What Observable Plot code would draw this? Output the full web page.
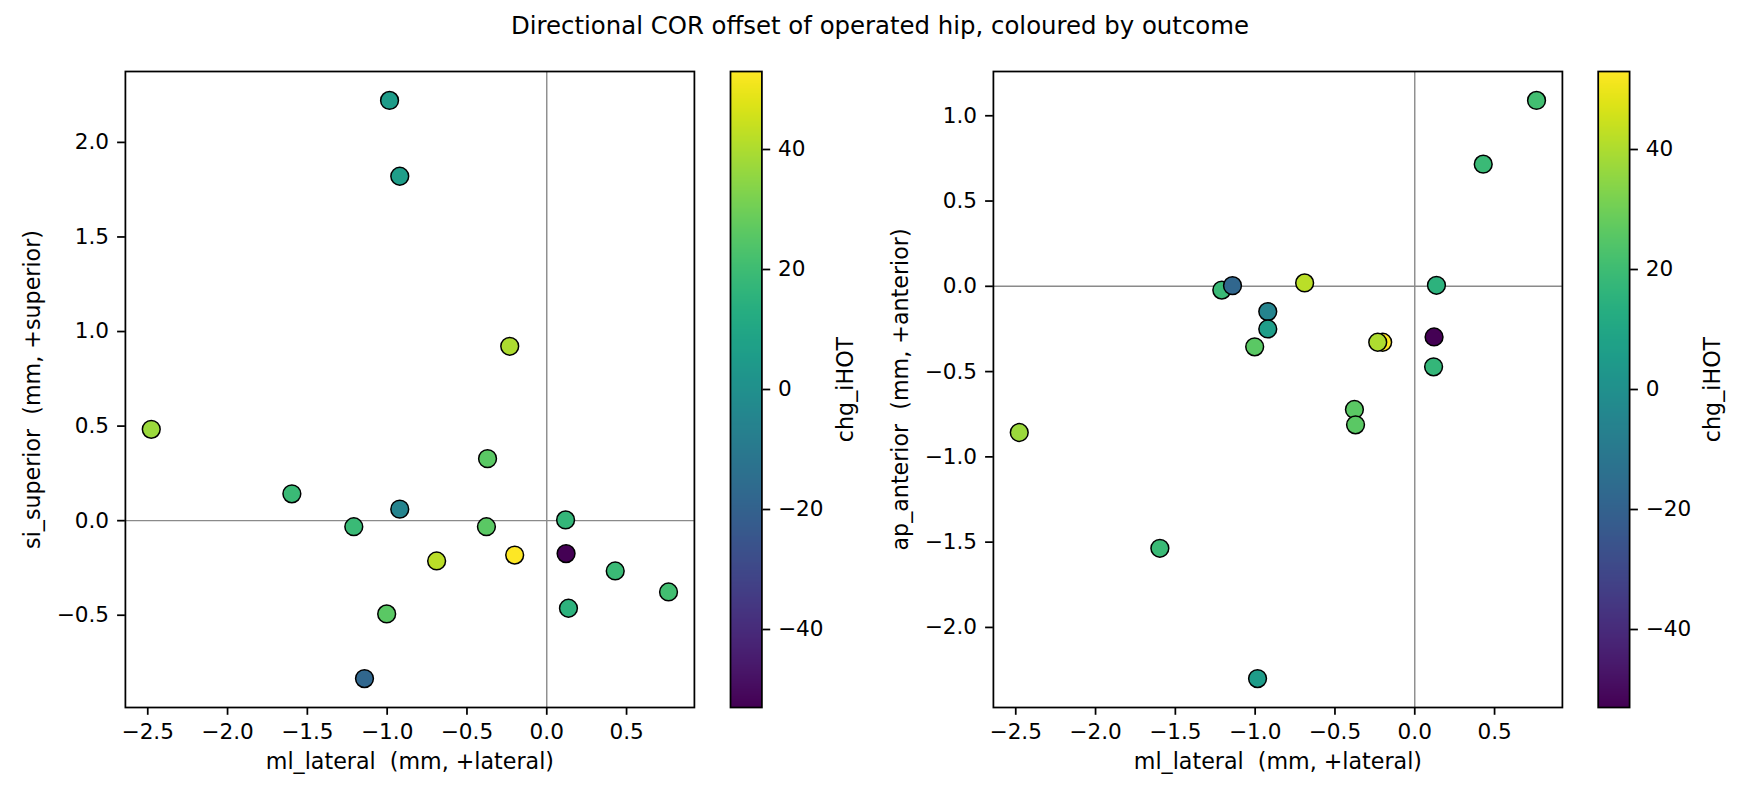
<!DOCTYPE html>
<html>
<head>
<meta charset="utf-8">
<script src="https://cdn.jsdelivr.net/npm/d3@7"></script>
<script src="https://cdn.jsdelivr.net/npm/@observablehq/plot@0.6"></script>
<style>
  html, body { margin: 0; padding: 0; background: #fff; }
  #fig { position: relative; width: 1760px; height: 800px; background: #fff; overflow: hidden; font-family: "DejaVu Sans", sans-serif; }
  #title { position: absolute; left: 0; width: 1760px; top: 13.7px; text-align: center; font-size: 24.4px; line-height: 1; color: #000; white-space: pre; }
  .panel { position: absolute; top: 0; }
  svg text { white-space: pre; }
</style>
</head>
<body>
<div id="fig">
  <div id="title"></div>
</div>
<script>
// ---- data ----
const titleText = "Directional COR offset of operated hip, coloured by outcome";
const mlLateral  = [-0.985, -0.921, -0.921, -2.478, -0.201, -0.232, -1.597, -1.209, -1.142, -0.378, -0.371, 0.118, -0.690, 0.121, 0.429, 0.763, 0.136, -1.003];
const siSuperior = [ 2.222,  0.061,  1.821,  0.483, -0.182,  0.922,  0.142, -0.032, -0.835, -0.032,  0.328, 0.004, -0.213, -0.174, -0.266, -0.377, -0.463, -0.493];
const apAnterior = [-2.300, -0.148, -0.250, -0.857, -0.328, -0.328, -1.536, -0.022,  0.004, -0.722, -0.812, -0.472, 0.020, -0.297, 0.716, 1.090, 0.006, -0.355];
const chgIHOT    = [5, -5, 6, 37, 53, 40, 19, 19, -18, 26, 26, 17, 42, -53, 19, 21, 15, 26];

const xTicks = [-2.5, -2.0, -1.5, -1.0, -0.5, 0.0, 0.5];
const siTicks = [-0.5, 0.0, 0.5, 1.0, 1.5, 2.0];
const apTicks = [-2.0, -1.5, -1.0, -0.5, 0.0, 0.5, 1.0];
const cTicks = [-40, -20, 0, 20, 40];

const xLabel = "ml_lateral  (mm, +lateral)";
const siLabel = "si_superior  (mm, +superior)";
const apLabel = "ap_anterior  (mm, +anterior)";
const cLabel = "chg_iHOT";

// ---- helpers ----
const rows = mlLateral.map((x, i) => ({ml: x, si: siSuperior[i], ap: apAnterior[i], chg: chgIHOT[i]}));
function padded(arr) {
  const lo = d3.min(arr), hi = d3.max(arr), p = (hi - lo) * 0.05;
  return [lo - p, hi + p];
}
const cMax = d3.max(chgIHOT, d => Math.abs(d));
const cDomain = [-cMax, cMax];
const fmt1 = d3.format(".1f");
const fmtInt = d3.format("d");
const TICK_FS = 21.6, LABEL_FS = 22.2;
const baseStyle = {fontFamily: "DejaVu Sans", fontSize: TICK_FS + "px", color: "#000", background: "transparent", overflow: "visible"};
const TOP = 71, BOTTOM = 800 - 707;
const TS = 7.8, SW = 1.75;

function scatter(yKey, yTicks, yLabel, left, mLeft) {
  const W = 700;
  const plotW = 569;
  const svg = Plot.plot({
    width: W, height: 800,
    marginLeft: mLeft, marginRight: W - mLeft - plotW, marginTop: TOP, marginBottom: BOTTOM,
    style: baseStyle,
    x: {domain: padded(mlLateral), nice: false},
    y: {domain: padded(rows.map(d => d[yKey])), nice: false},
    color: {type: "linear", scheme: "viridis", domain: cDomain},
    marks: [
      Plot.ruleX([0], {stroke: "#8a8a8a", strokeWidth: 1.4}),
      Plot.ruleY([0], {stroke: "#8a8a8a", strokeWidth: 1.4}),
      Plot.dot(rows, {x: "ml", y: yKey, fill: "chg", r: 8.9, stroke: "#000", strokeWidth: 1.5}),
      Plot.frame({stroke: "#000", strokeWidth: 1.75}),
      Plot.axisX({ticks: xTicks, tickFormat: fmt1, tickSize: TS, tickPadding: 8.4, strokeWidth: SW, label: null}),
      Plot.axisY({ticks: yTicks, tickFormat: fmt1, tickSize: TS, tickPadding: 8.5, strokeWidth: SW, label: null}),
      Plot.text([xLabel], {text: d => d, frameAnchor: "bottom", dy: 61, lineAnchor: "bottom", textAnchor: "middle", fill: "#000", fontSize: LABEL_FS}),
      Plot.text([yLabel], {text: d => d, frameAnchor: "left", dx: -85, rotate: -90, lineAnchor: "bottom", textAnchor: "middle", fill: "#000", fontSize: LABEL_FS})
    ]
  });
  svg.classList.add("panel");
  svg.style.left = left + "px";
  document.getElementById("fig").appendChild(svg);
}

function colorbar(left, mLeft) {
  const W = 180, barW = 31.4;
  const svg = Plot.plot({
    width: W, height: 800,
    marginLeft: mLeft, marginRight: W - mLeft - barW, marginTop: TOP, marginBottom: BOTTOM,
    style: baseStyle,
    x: {domain: [0, 1], axis: null},
    y: {domain: cDomain, nice: false},
    color: {type: "linear", scheme: "viridis", domain: cDomain},
    marks: [
      Plot.raster({x1: 0, x2: 1, y1: cDomain[0], y2: cDomain[1], width: 1, height: 256, fill: (x, y) => y, imageRendering: "auto"}),
      Plot.frame({stroke: "#000", strokeWidth: 1.75}),
      Plot.axisY({anchor: "right", ticks: cTicks, tickFormat: fmtInt, tickSize: TS, tickPadding: 8.3, strokeWidth: SW, label: null}),
      Plot.text([cLabel], {text: d => d, frameAnchor: "right", dx: 90.7, rotate: -90, lineAnchor: "bottom", textAnchor: "middle", fill: "#000", fontSize: LABEL_FS})
    ]
  });
  svg.classList.add("panel");
  svg.style.left = left + "px";
  document.getElementById("fig").appendChild(svg);
}

document.getElementById("title").textContent = titleText;
scatter("si", siTicks, siLabel, 0, 124.9);
colorbar(700, 30);
scatter("ap", apTicks, apLabel, 880, 112.9);
colorbar(1580, 17.7);
</script>
</body>
</html>
